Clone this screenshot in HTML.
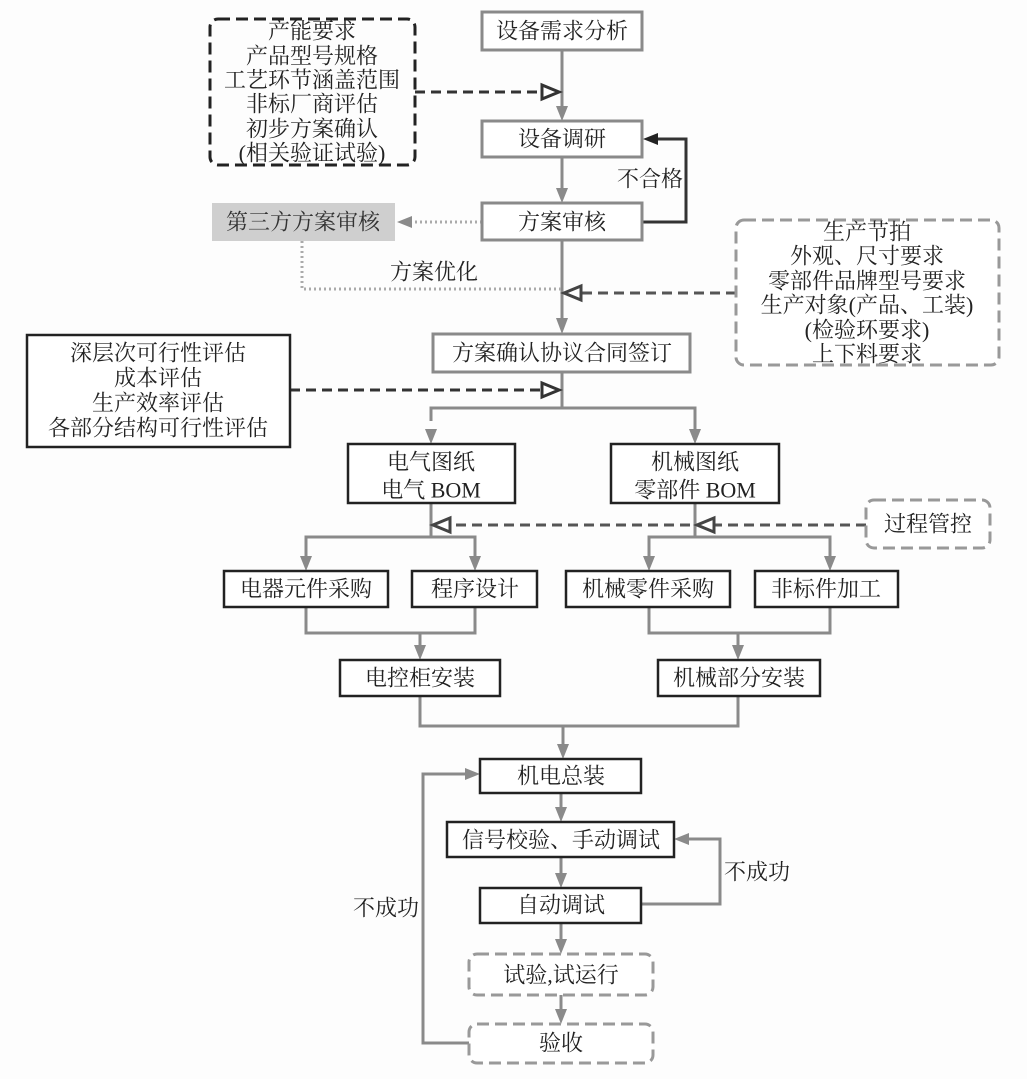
<!DOCTYPE html>
<html><head><meta charset="utf-8"><style>
html,body{margin:0;padding:0;background:#fdfdfd;}
svg{display:block;}
text{font-family:"Liberation Serif","Noto Serif CJK SC",serif;font-size:22px;fill:#222;}
</style></head><body>
<svg width="1027" height="1079" viewBox="0 0 1027 1079" xmlns="http://www.w3.org/2000/svg">
<rect width="1027" height="1079" fill="#fdfdfd"/>
<g fill="none" stroke-linejoin="miter">
<!-- gray main connectors -->
<g stroke="#8a8a8a" stroke-width="3">
<line x1="562" y1="50" x2="562" y2="108"/>
<line x1="562" y1="157" x2="562" y2="190"/>
<line x1="562" y1="240" x2="562" y2="320"/>
<polyline points="562,372 562,408"/>
<polyline points="431,421 431,408 695,408 695,431"/>
<polyline points="431,503 431,537"/>
<polyline points="695,503 695,537"/>
<polyline points="306,558 306,537 475,537 475,558"/>
<polyline points="649,558 649,537 830,537 830,558"/>
<polyline points="306,607 306,633 475,633 475,607"/>
<line x1="420" y1="633" x2="420" y2="647"/>
<polyline points="649,607 649,633 830,633 830,607"/>
<line x1="738" y1="633" x2="738" y2="647"/>
<polyline points="420,696 420,726 738,726 738,696"/>
<line x1="563" y1="726" x2="563" y2="746"/>
<line x1="561" y1="793" x2="561" y2="809"/>
<line x1="561" y1="857" x2="561" y2="875"/>
<line x1="561" y1="923" x2="561" y2="941"/>
<line x1="561" y1="995" x2="561" y2="1011"/>
<polyline points="641,904 720,904 720,839 687,839"/>
<polyline points="469,1043 423,1043 423,774 467,774"/>
</g>
<!-- dark feedback -->
<polyline points="642,222 686,222 686,139 656,139" stroke="#333" stroke-width="3"/>
<!-- dotted -->
<g stroke="#aaa" stroke-width="3" stroke-dasharray="2 3">
<line x1="482" y1="222" x2="410" y2="222"/>
<polyline points="302,241 302,289 562,289"/>
</g>
<!-- dashed arrows -->
<g stroke="#333" stroke-width="3" stroke-dasharray="10 6">
<line x1="415" y1="92" x2="542" y2="92"/>
<line x1="290" y1="390" x2="542" y2="390"/>
</g>
<g stroke="#555" stroke-width="3" stroke-dasharray="10 6">
<line x1="736" y1="293" x2="581" y2="293"/>
<line x1="866" y1="525" x2="450" y2="525"/>
</g>
</g>
<!-- filled arrowheads gray -->
<g fill="#8a8a8a">
<polygon points="556,106 568,106 562,121"/>
<polygon points="556,188 568,188 562,203"/>
<polygon points="556,318 568,318 562,334"/>
<polygon points="425,429 437,429 431,444"/>
<polygon points="689,429 701,429 695,444"/>
<polygon points="300,556 312,556 306,571"/>
<polygon points="469,556 481,556 475,571"/>
<polygon points="643,556 655,556 649,571"/>
<polygon points="824,556 836,556 830,571"/>
<polygon points="414,645 426,645 420,660"/>
<polygon points="732,645 744,645 738,660"/>
<polygon points="557,744 569,744 563,759"/>
<polygon points="555,807 567,807 561,822"/>
<polygon points="555,873 567,873 561,888"/>
<polygon points="555,939 567,939 561,954"/>
<polygon points="555,1009 567,1009 561,1024"/>
<polygon points="689,833 689,845 674,839"/>
<polygon points="465,768 465,780 480,774"/>
<polygon points="412,216 412,228 397,222"/>
</g>
<polygon points="658,133 658,145 643,139" fill="#222"/>
<!-- open triangles -->
<g fill="#fff" stroke="#333" stroke-width="3">
<polygon points="542,85 542,99 559,92"/>
<polygon points="542,383 542,397 559,390"/>
</g>
<g fill="#fff" stroke="#444" stroke-width="3">
<polygon points="581,286 581,300 564,293"/>
<polygon points="450,518 450,532 433,525"/>
<polygon points="714,518 714,532 697,525"/>
</g>
<!-- gray-bordered boxes -->
<g fill="#fff" stroke="#8a8a8a" stroke-width="3">
<rect x="482" y="12" width="160" height="38"/>
<rect x="482" y="121" width="160" height="36"/>
<rect x="482" y="203" width="160" height="37"/>
<rect x="433" y="334" width="257" height="38"/>
</g>
<rect x="212" y="203" width="183" height="38" fill="#cfcfcf"/>
<!-- dark boxes -->
<g fill="#fff" stroke="#222" stroke-width="2.5">
<rect x="27" y="335" width="263" height="112"/>
<rect x="348" y="444" width="167" height="59"/>
<rect x="611" y="444" width="168" height="59"/>
<rect x="224" y="571" width="164" height="36"/>
<rect x="412" y="571" width="125" height="36"/>
<rect x="566" y="571" width="164" height="36"/>
<rect x="755" y="571" width="143" height="36"/>
<rect x="340" y="660" width="160" height="36"/>
<rect x="658" y="660" width="162" height="36"/>
<rect x="480" y="759" width="161" height="34"/>
<rect x="447" y="822" width="227" height="35"/>
<rect x="480" y="888" width="161" height="35"/>
</g>
<!-- dashed boxes -->
<rect x="210" y="19" width="205" height="146" rx="8" fill="none" stroke="#222" stroke-width="3" stroke-dasharray="12 6"/>
<g fill="#fff" stroke="#999" stroke-width="3" stroke-dasharray="12 6">
<rect x="736" y="220" width="263" height="145" rx="8"/>
<rect x="866" y="500" width="124" height="48" rx="8"/>
<rect x="469" y="954" width="184" height="41" rx="8"/>
<rect x="469" y="1024" width="184" height="39" rx="8"/>
</g>
<!-- text -->
<g text-anchor="middle" dominant-baseline="central">
<text x="562" y="31">设备需求分析</text>
<text x="312" y="31">产能要求</text>
<text x="312" y="56">产品型号规格</text>
<text x="312" y="80">工艺环节涵盖范围</text>
<text x="312" y="104">非标厂商评估</text>
<text x="312" y="129">初步方案确认</text>
<text x="312" y="153">(相关验证试验)</text>
<text x="562" y="139">设备调研</text>
<text x="650" y="179">不合格</text>
<text x="562" y="222">方案审核</text>
<text x="303" y="222" style="fill:#333">第三方方案审核</text>
<text x="434" y="272">方案优化</text>
<text x="867" y="232">生产节拍</text>
<text x="867" y="256">外观、尺寸要求</text>
<text x="867" y="281">零部件品牌型号要求</text>
<text x="867" y="305">生产对象(产品、工装)</text>
<text x="867" y="330">(检验环要求)</text>
<text x="867" y="354">上下料要求</text>
<text x="562" y="353">方案确认协议合同签订</text>
<text x="158" y="353">深层次可行性评估</text>
<text x="158" y="378">成本评估</text>
<text x="158" y="403">生产效率评估</text>
<text x="158" y="428">各部分结构可行性评估</text>
<text x="431" y="462">电气图纸</text>
<text x="431" y="490">电气 BOM</text>
<text x="695" y="462">机械图纸</text>
<text x="695" y="490">零部件 BOM</text>
<text x="928" y="524">过程管控</text>
<text x="306" y="589">电器元件采购</text>
<text x="475" y="589">程序设计</text>
<text x="648" y="589">机械零件采购</text>
<text x="826" y="589">非标件加工</text>
<text x="420" y="678">电控柜安装</text>
<text x="739" y="678">机械部分安装</text>
<text x="561" y="776">机电总装</text>
<text x="561" y="840">信号校验、手动调试</text>
<text x="561" y="905">自动调试</text>
<text x="757" y="872">不成功</text>
<text x="386" y="908">不成功</text>
<text x="561" y="975">试验,试运行</text>
<text x="561" y="1043">验收</text>
</g>
</svg>
</body></html>
